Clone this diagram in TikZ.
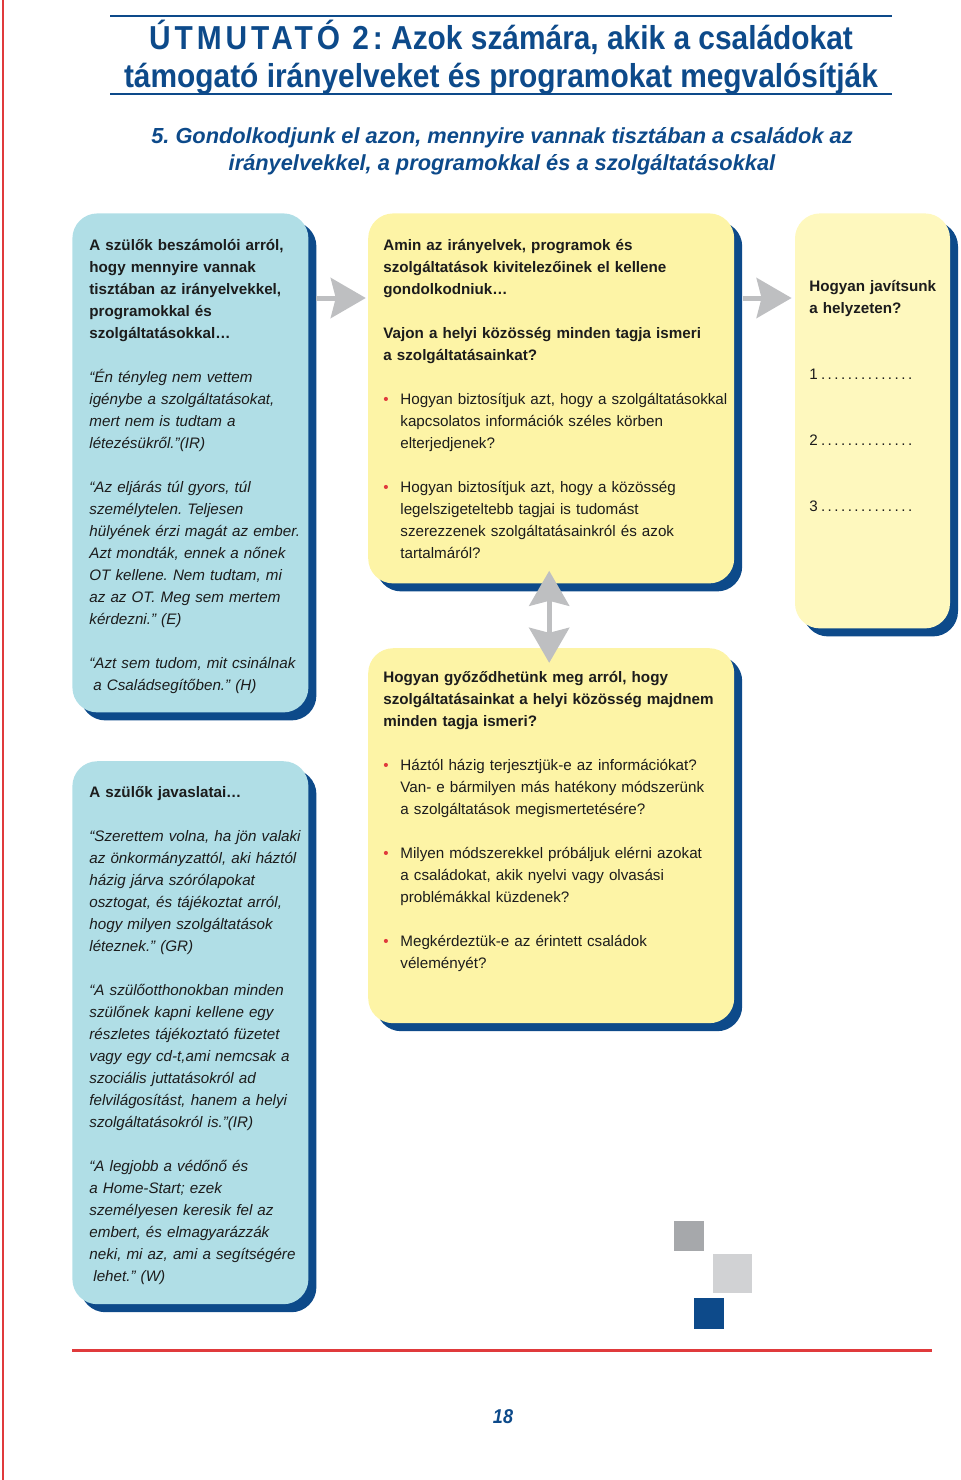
\documentclass[tikz,border=0pt]{standalone}
\usepackage{fontspec}
\setmainfont{Liberation Sans}
\newfontfamily\headfont[FakeStretch=0.9]{Liberation Sans}
\usepackage{xcolor}
\usepackage{tikz}
\usetikzlibrary{positioning,arrows.meta,shadows}
\definecolor{cNavy}{HTML}{0D4A8A}
\definecolor{cSky}{HTML}{B0DEE6}
\definecolor{cLemon}{HTML}{FDF4A6}
\definecolor{cPale}{HTML}{FEF8BE}
\definecolor{cGrey}{HTML}{BEBFC1}
\definecolor{cSilver}{HTML}{D1D2D4}
\definecolor{cSlate}{HTML}{A6A8AB}
\definecolor{cRed}{HTML}{E03A3C}
\definecolor{cInk}{HTML}{1C1C1C}
\newcommand{\itemdot}{\makebox[8.5pt][l]{\textcolor{cRed}{\textbullet}}}
\newcommand{\itemgap}{\hspace*{8.5pt}}
\newcommand{\blank}[1]{\makebox[53pt][l]{#1\dotfill}}
\frenchspacing

\begin{document}
\begin{tikzpicture}[
  x=0.5pt, y=-0.5pt,
  >={Stealth[length=17.5pt, width=20pt, inset=2.5pt]},
  card/.style={rounded corners=12.5pt, anchor=north west, inner sep=0pt,
               drop shadow={shadow xshift=4pt, shadow yshift=-4pt, fill=cNavy, opacity=1}},
  skybox/.style={card, fill=cSky},
  lemonbox/.style={card, fill=cLemon},
  palebox/.style={card, fill=cPale},
  txt/.style={anchor=base west, inner sep=0pt, text width=220pt, align=left,
              text=cInk, font=\fontsize{7.6}{11}\selectfont},
  garrow/.style={->, draw=cGrey, line width=2.5pt},
  title/.style={align=center, text=cNavy, inner sep=0pt, anchor=base},
]
\useasboundingbox (0,0) rectangle (960,1480);

% page frame
\draw[cRed, line width=1pt] (3,0) -- (3,1480);
\draw[cNavy, line width=1.2pt] (110,16) -- (892,16);
\draw[cNavy, line width=1.2pt] (110,94) -- (892,94);
\draw[cRed, line width=1.5pt] (72,1350) -- (932,1350);

% base anchor sits on the last line here
\node[title, font=\headfont\bfseries\fontsize{16.6}{19}\selectfont] (head) at (501,87)
  {{\addfontfeature{LetterSpace=12}ÚTMUTATÓ 2:} Azok számára, akik a családokat\\
   támogató irányelveket és programokat megvalósítják};
\node[title, font=\bfseries\itshape\fontsize{10.9}{13.5}\selectfont] (sub) at (502,170)
  {5. Gondolkodjunk el azon, mennyire vannak tisztában a családok az\\
   irányelvekkel, a programokkal és a szolgáltatásokkal};

% boxes
\node[skybox, minimum width=118pt, minimum height=249.5pt] (reports) at (72,213) {};
\node[lemonbox, minimum width=183pt, minimum height=185pt,
      right=29.5pt of reports.north east, anchor=north west] (think) {};
\node[palebox, minimum width=77.5pt, minimum height=207.5pt,
      right=30pt of think.north east, anchor=north west] (improve) {};
\node[lemonbox, minimum width=183pt, minimum height=187.5pt,
      below=32pt of think.south west, anchor=north west] (check) {};
\node[skybox, minimum width=118pt, minimum height=271.5pt,
      below=24pt of reports.south west, anchor=north west] (ideas) {};

\node[txt] (reportsText) at (89,250) {%
  \textbf{A szülők beszámolói arról,\\
  hogy mennyire vannak\\
  tisztában az irányelvekkel,\\
  programokkal és\\
  szolgáltatásokkal…}\\[11pt]
  \textit{“Én tényleg nem vettem\\
  igénybe a szolgáltatásokat,\\
  mert nem is tudtam a\\
  létezésükről.”(IR)}\\[11pt]
  \textit{“Az eljárás túl gyors, túl\\
  személytelen. Teljesen\\
  hülyének érzi magát az ember.\\
  Azt mondták, ennek a nőnek\\
  OT kellene. Nem tudtam, mi\\
  az az OT. Meg sem mertem\\
  kérdezni.” (E)}\\[11pt]
  \textit{“Azt sem tudom, mit csinálnak\\
  \hspace*{2pt}a Családsegítőben.” (H)}};

\node[txt] (thinkText) at (383,250) {%
  \textbf{Amin az irányelvek, programok és\\
  szolgáltatások kivitelezőinek el kellene\\
  gondolkodniuk…}\\[11pt]
  \textbf{Vajon a helyi közösség minden tagja ismeri\\
  a szolgáltatásainkat?}\\[11pt]
  \itemdot Hogyan biztosítjuk azt, hogy a szolgáltatásokkal\\
  \itemgap kapcsolatos információk széles körben\\
  \itemgap elterjedjenek?\\[11pt]
  \itemdot Hogyan biztosítjuk azt, hogy a közösség\\
  \itemgap legelszigeteltebb tagjai is tudomást\\
  \itemgap szerezzenek szolgáltatásainkról és azok\\
  \itemgap tartalmáról?};

\node[txt] (improveText) at (809,291) {%
  \textbf{Hogyan javítsunk\\
  a helyzeten?}\\[22pt]
  \blank{1}\\[22pt]
  \blank{2}\\[22pt]
  \blank{3}};

\node[txt] (checkText) at (383,682) {%
  \textbf{Hogyan győződhetünk meg arról, hogy\\
  szolgáltatásainkat a helyi közösség majdnem\\
  minden tagja ismeri?}\\[11pt]
  \itemdot Háztól házig terjesztjük-e az információkat?\\
  \itemgap Van- e bármilyen más hatékony módszerünk\\
  \itemgap a szolgáltatások megismertetésére?\\[11pt]
  \itemdot Milyen módszerekkel próbáljuk elérni azokat\\
  \itemgap a családokat, akik nyelvi vagy olvasási\\
  \itemgap problémákkal küzdenek?\\[11pt]
  \itemdot Megkérdeztük-e az érintett családok\\
  \itemgap véleményét?};

\node[txt] (ideasText) at (89,797) {%
  \textbf{A szülők javaslatai…}\\[11pt]
  \textit{“Szerettem volna, ha jön valaki\\
  az önkormányzattól, aki háztól\\
  házig járva szórólapokat\\
  osztogat, és tájékoztat arról,\\
  hogy milyen szolgáltatások\\
  léteznek.” (GR)}\\[11pt]
  \textit{“A szülőotthonokban minden\\
  szülőnek kapni kellene egy\\
  részletes tájékoztató füzetet\\
  vagy egy cd-t,ami nemcsak a\\
  szociális juttatásokról ad\\
  felvilágosítást, hanem a helyi\\
  szolgáltatásokról is.”(IR)}\\[11pt]
  \textit{“A legjobb a védőnő és\\
  a Home-Start; ezek\\
  személyesen keresik fel az\\
  embert, és elmagyarázzák\\
  neki, mi az, ami a segítségére\\
  \hspace*{2pt}lehet.” (W)}};

% arrows
\draw[garrow] ([xshift=3.5pt, yshift=-42.5pt]reports.north east) -- ([xshift=-1pt, yshift=-42.5pt]think.north west);
\draw[garrow] ([xshift=4pt, yshift=-42.5pt]think.north east) -- ([xshift=-1.5pt, yshift=-42.5pt]improve.north west);
\draw[garrow, <->] ([xshift=-1pt, yshift=6.5pt]think.south) -- ([xshift=-1pt, yshift=-7.5pt]check.north);

% corner squares
\fill[cSlate] (674,1221) rectangle (704,1251);
\fill[cSilver] (713,1254) rectangle (752,1293);
\fill[cNavy] (694,1298) rectangle (724,1329);

\node[title, font=\headfont\bfseries\itshape\fontsize{10}{12}\selectfont] (page) at (503,1423) {18};
\end{tikzpicture}
\end{document}
